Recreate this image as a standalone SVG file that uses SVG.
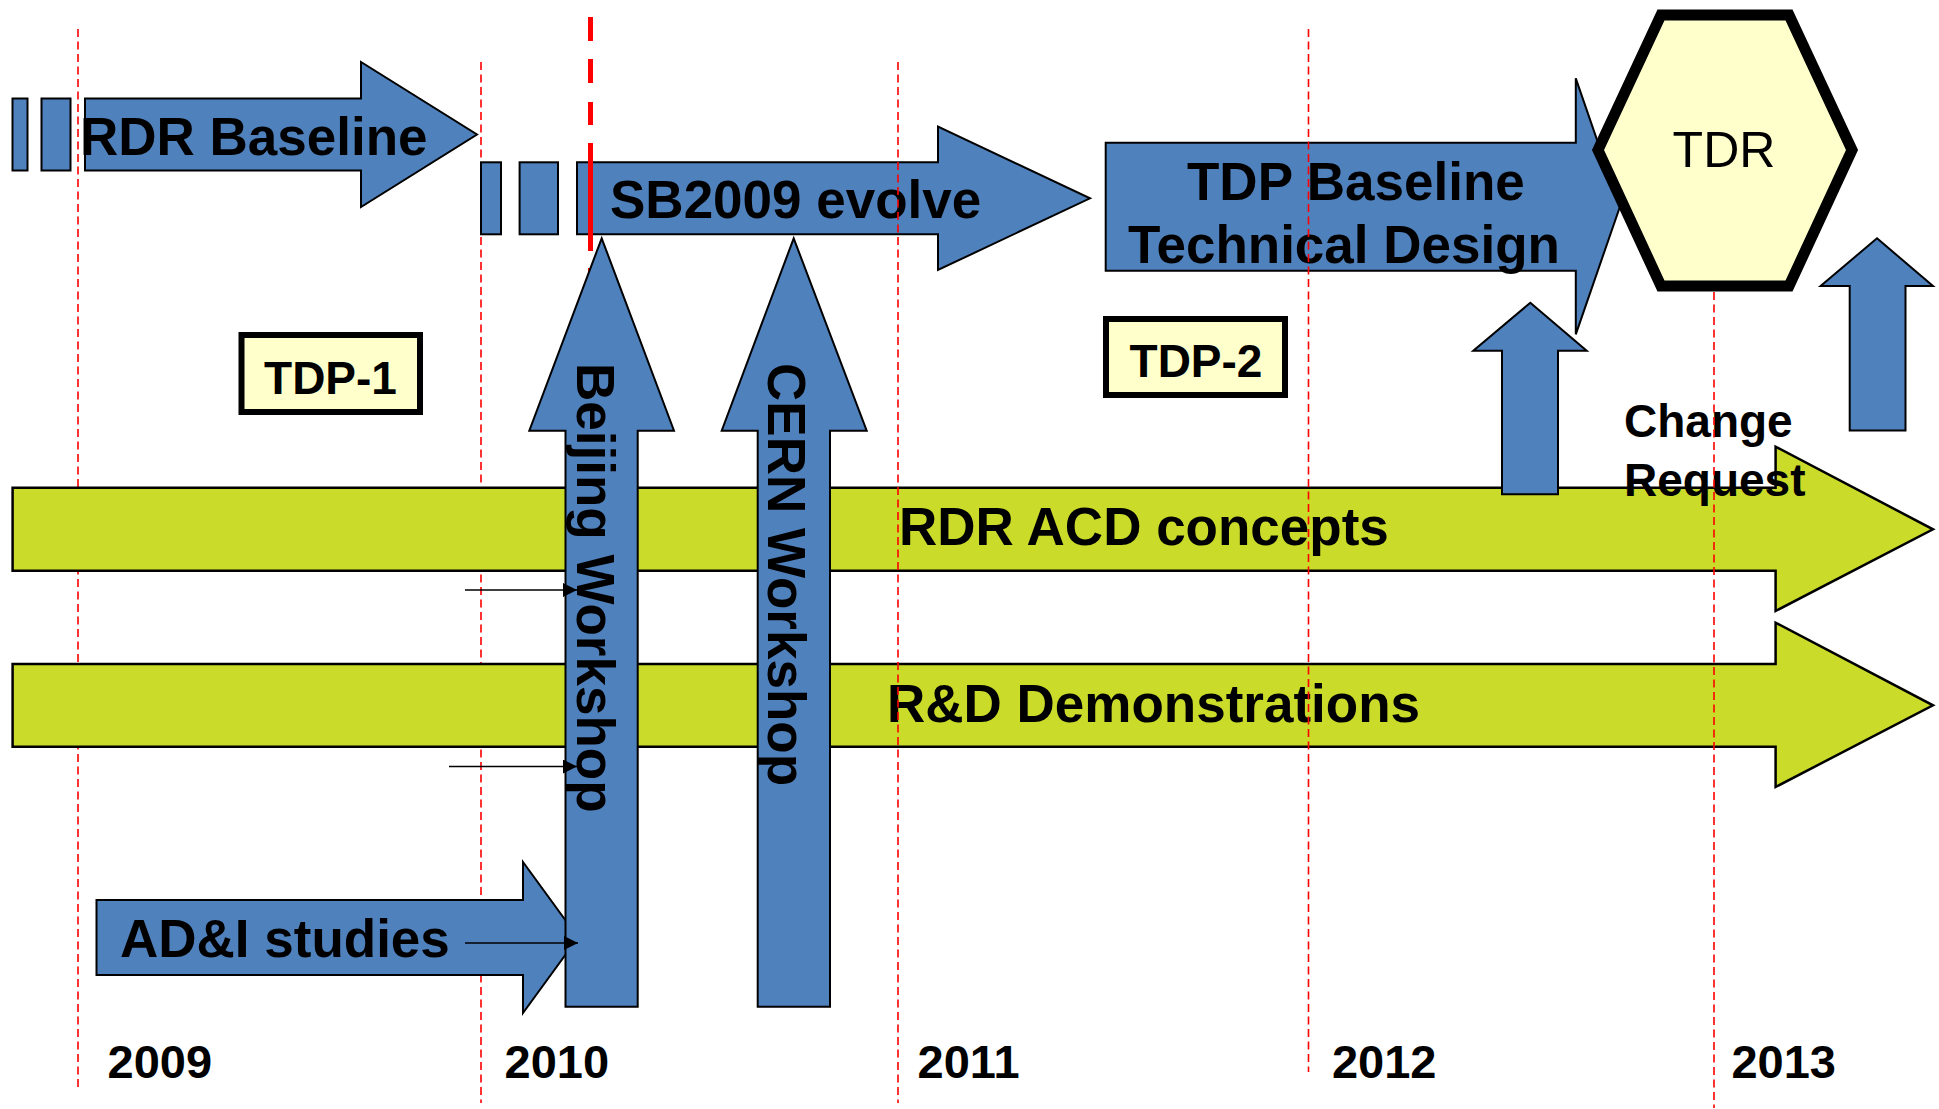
<svg xmlns="http://www.w3.org/2000/svg" width="1939" height="1109" viewBox="0 0 1939 1109">
<defs>
<style>
.blue{fill:#4F81BD;stroke:#000;stroke-width:2;stroke-linejoin:miter}
.green{fill:#CBDB2A;stroke:#000;stroke-width:2.5}
.grid{stroke:#FF0000;stroke-width:1.6;stroke-dasharray:8 4.5;fill:none}
.box{fill:#FFFFCC;stroke:#000;stroke-width:6}
.t{font-family:"Liberation Sans",Arial,Helvetica,sans-serif;font-weight:bold;fill:#000}
.big{font-size:53px}
.yr{font-size:47px}
.conn{stroke:#000;stroke-width:1.6;fill:none}
</style>
<marker id="ah" viewBox="0 0 14 14" refX="14" refY="7" markerWidth="14" markerHeight="14" markerUnits="userSpaceOnUse" orient="auto">
<path d="M0,0 L14,7 L0,14 z" fill="#000"/>
</marker>
</defs>
<rect width="1939" height="1109" fill="#fff"/>

<g id="grid-back">
<line class="grid" x1="78" y1="29" x2="78" y2="1087"/>
<line class="grid" x1="481" y1="62" x2="481" y2="1103"/>
</g>

<g id="rdr-baseline">
<rect class="blue" x="12.5" y="98.5" width="15" height="72"/>
<rect class="blue" x="41.5" y="98.5" width="29" height="72"/>
<polygon class="blue" points="85,98.5 361,98.5 361,62 477,134.5 361,207 361,170.5 85,170.5"/>
</g>

<g id="sb2009">
<rect class="blue" x="481" y="162.3" width="20" height="72"/>
<rect class="blue" x="519.6" y="162.3" width="38.4" height="72"/>
<polygon class="blue" points="577,162.3 938,162.3 938,126.7 1090,198.3 938,270 938,234.3 577,234.3"/>
</g>

<g id="milestone-line">
<g stroke="#FF0000" stroke-width="5">
<line x1="590.5" y1="17" x2="590.5" y2="41"/>
<line x1="590.5" y1="59" x2="590.5" y2="83"/>
<line x1="590.5" y1="102" x2="590.5" y2="125"/>
<line x1="590.5" y1="143" x2="590.5" y2="251"/>
<line x1="590.5" y1="268" x2="590.5" y2="290"/>
</g>
</g>

<g id="tdp-baseline">
<polygon class="blue" points="1105.7,142.7 1575.8,142.7 1575.8,78.3 1620,206.5 1575.8,334.3 1575.8,270.7 1105.7,270.7"/>
</g>

<g id="tdp1">
<rect class="box" x="241.5" y="335" width="178.5" height="77"/>
</g>
<g id="tdp2">
<rect class="box" x="1106" y="319" width="179" height="76"/>
</g>

<g id="rdr-acd">
<polygon class="green" points="12.6,487.7 1775.6,487.7 1775.6,446.7 1933,529.3 1775.6,611 1775.6,570.7 12.6,570.7"/>
</g>
<g id="rnd-demo">
<polygon class="green" points="12.6,664 1775.6,664 1775.6,622.7 1933,705.3 1775.6,787 1775.6,746.7 12.6,746.7"/>
</g>

<g id="adi-studies">
<polygon class="blue" points="96.5,900 523,900 523,862 578,937.5 523,1013 523,975 96.5,975"/>
</g>

<g id="beijing-workshop">
<polygon class="blue" points="601.7,238.3 674,430.7 637.7,430.7 637.7,1006.7 565.5,1006.7 565.5,430.7 529.3,430.7"/>
</g>
<g id="cern-workshop">
<polygon class="blue" points="793.7,238.3 866.7,430.7 830,430.7 830,1006.7 757.7,1006.7 757.7,430.7 721.7,430.7"/>
</g>

<g id="change-request-arrow-1">
<polygon class="blue" points="1530.3,302.7 1586.7,350.7 1558,350.7 1558,494.3 1502,494.3 1502,350.7 1473.3,350.7"/>
</g>
<g id="change-request-arrow-2">
<polygon class="blue" points="1877,238.3 1933,286 1905.5,286 1905.5,430.5 1849.7,430.5 1849.7,286 1820.6,286"/>
</g>

<g id="labels">
<text class="t big" x="80" y="155">RDR Baseline</text>
<text class="t big" x="610" y="218.3">SB2009 evolve</text>
<text class="t big" x="1187" y="200">TDP Baseline</text>
<text class="t big" x="1128" y="263.3">Technical Design</text>
<text class="t" font-size="46" x="330.5" y="394" text-anchor="middle">TDP-1</text>
<text class="t" font-size="46" x="1196" y="376.7" text-anchor="middle">TDP-2</text>
<text class="t" font-size="46" x="1624" y="437.3">Change</text>
<text class="t" font-size="46" x="1624" y="496">Request</text>
<text class="t big" x="899" y="545">RDR ACD concepts</text>
<text class="t big" x="887" y="721.7">R&amp;D Demonstrations</text>
<text class="t big" x="120" y="957.3">AD&amp;I studies</text>
<text class="t big" transform="translate(577,363) rotate(90)">Beijing Workshop</text>
<text class="t big" transform="translate(768,363) rotate(90)">CERN Workshop</text>
<text class="t yr" x="107.6" y="1078">2009</text>
<text class="t yr" x="504.6" y="1078">2010</text>
<text class="t yr" x="917.6" y="1078">2011</text>
<text class="t yr" x="1331.9" y="1078">2012</text>
<text class="t yr" x="1731.4" y="1078">2013</text>
</g>

<g id="connectors">
<line class="conn" x1="465" y1="590" x2="577" y2="590" marker-end="url(#ah)"/>
<line class="conn" x1="449" y1="766.5" x2="577" y2="766.5" marker-end="url(#ah)"/>
<line class="conn" x1="465" y1="943" x2="578" y2="943" marker-end="url(#ah)"/>
</g>

<g id="grid-front">
<line class="grid" x1="898" y1="62" x2="898" y2="1103"/>
<line class="grid" x1="1308.5" y1="29" x2="1308.5" y2="1072"/>
<line class="grid" x1="1714" y1="292" x2="1714" y2="1108"/>
</g>

<g id="tdr">
<polygon points="1661,15 1789,15 1852,150 1789,286 1661,286 1598,150" fill="#FFFFCC" stroke="#000" stroke-width="11" stroke-linejoin="miter"/>
<text x="1724" y="166.7" text-anchor="middle" font-family="'Liberation Sans',Arial,Helvetica,sans-serif" font-size="50" fill="#000">TDR</text>
</g>
</svg>
